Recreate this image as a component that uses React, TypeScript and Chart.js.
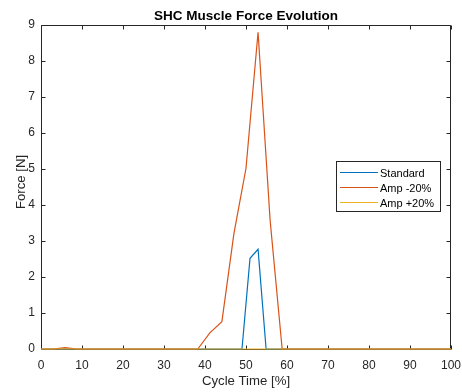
import React, { useEffect, useRef } from "react";
import { Chart, registerables } from "chart.js";

Chart.register(...registerables);

// ---- Data ----
const TITLE = "SHC Muscle Force Evolution";
const X_LABEL = "Cycle Time [%]";
const Y_LABEL = "Force [N]";
const SERIES_NAMES = ["Standard", "Amp -20%", "Amp +20%"];
const SERIES_COLORS = ["#0072BD", "#D95319", "#EDB120"];

// Standard (breakpoints of the curve; zero elsewhere)
const standardX = [0, 49.02, 50.98, 52.94, 54.9, 100];
const standardY = [0, 0, 2.52, 2.77, 0, 0];

// Amp -20%
const ampMinusX = [0, 2.94, 5.88, 8.82, 38.24, 41.18, 44.12, 47.06, 50.0, 52.94, 55.88, 58.82, 100];
const ampMinusY = [0, 0, 0.04, 0, 0, 0.45, 0.76, 3.21, 5.02, 8.8, 3.58, 0, 0];

// Amp +20%
const ampPlusX = [0, 100];
const ampPlusY = [0, 0];

const X_TICKS = [0, 10, 20, 30, 40, 50, 60, 70, 80, 90, 100];
const Y_TICKS = [0, 1, 2, 3, 4, 5, 6, 7, 8, 9];

const FONT = "'Liberation Sans', Arial, Helvetica, sans-serif";
const AXIS_COLOR = "#262626";

export default function App() {
  const ref = useRef<HTMLCanvasElement>(null);

  useEffect(() => {
    document.body.style.margin = "0";
    const canvas = ref.current;
    if (!canvas) return;

    const xs = [standardX, ampMinusX, ampPlusX];
    const ys = [standardY, ampMinusY, ampPlusY];

    const datasets = SERIES_NAMES.map((name, i) => ({
      label: name,
      data: xs[i].map((x, j) => ({ x, y: ys[i][j] })),
      borderColor: SERIES_COLORS[i],
      backgroundColor: SERIES_COLORS[i],
      borderWidth: 1.2,
      pointRadius: 0,
      pointHoverRadius: 0,
      tension: 0,
      fill: false,
      clip: 4,
      order: SERIES_NAMES.length - i,
    }));

    const matlabPlugin = {
      id: "matlabAxes",
      beforeDatasetsDraw(chart: any) {
        const { ctx, chartArea: a, scales } = chart;
        const xS = scales.x;
        const yS = scales.y;
        const L = Math.round(a.left) + 0.5;
        const R = Math.round(a.right) - 0.5;
        const T = Math.round(a.top) + 0.5;
        const B = Math.round(a.bottom) + 0.5;
        ctx.save();
        ctx.strokeStyle = AXIS_COLOR;
        ctx.lineWidth = 1;
        ctx.beginPath();
        ctx.rect(L, T, R - L, B - T);
        ctx.stroke();
        const tl = 4;
        ctx.beginPath();
        X_TICKS.forEach((v) => {
          const p = Math.round(xS.getPixelForValue(v)) + 0.5;
          ctx.moveTo(p, B);
          ctx.lineTo(p, B - tl);
          ctx.moveTo(p, T);
          ctx.lineTo(p, T + tl);
        });
        Y_TICKS.forEach((v) => {
          const p = Math.round(yS.getPixelForValue(v)) + 0.5;
          ctx.moveTo(L, p);
          ctx.lineTo(L + tl, p);
          ctx.moveTo(R, p);
          ctx.lineTo(R - tl, p);
        });
        ctx.stroke();
        ctx.restore();
      },
      afterDraw(chart: any) {
        const { ctx, chartArea: a } = chart;
        const cx = (a.left + a.right) / 2;
        ctx.save();
        // Title
        ctx.fillStyle = "#000000";
        ctx.font = `bold 13.5px ${FONT}`;
        ctx.textAlign = "center";
        ctx.textBaseline = "alphabetic";
        ctx.fillText(TITLE, cx, 20);
        // X label
        ctx.fillStyle = AXIS_COLOR;
        ctx.font = `13.2px ${FONT}`;
        ctx.fillText(X_LABEL, cx, 385);
        // Y label
        ctx.save();
        ctx.translate(24.5, 182);
        ctx.rotate(-Math.PI / 2);
        ctx.fillText(Y_LABEL, 0, 0);
        ctx.restore();

        // Legend
        const bx = 336.5, by = 161.5, bw = 104, bh = 50;
        ctx.fillStyle = "#ffffff";
        ctx.fillRect(bx, by, bw, bh);
        ctx.strokeStyle = AXIS_COLOR;
        ctx.lineWidth = 1;
        ctx.strokeRect(bx, by, bw, bh);
        ctx.font = `11px ${FONT}`;
        ctx.textAlign = "left";
        ctx.textBaseline = "alphabetic";
        chart.data.datasets.forEach((ds: any, i: number) => {
          const yy = 172.5 + i * 15;
          ctx.strokeStyle = ds.borderColor;
          ctx.lineWidth = 1.2;
          ctx.beginPath();
          ctx.moveTo(340, yy);
          ctx.lineTo(378, yy);
          ctx.stroke();
          ctx.fillStyle = "#000000";
          ctx.fillText(ds.label, 380, yy + 4);
        });
        ctx.restore();
      },
    };

    const chart = new Chart(canvas, {
      type: "line",
      data: { datasets },
      options: {
        animation: false,
        responsive: false,
        maintainAspectRatio: false,
        devicePixelRatio: 1,
        layout: { padding: { top: 25, right: 11, left: 0, bottom: 0 } },
        plugins: {
          legend: { display: false },
          title: { display: false },
          tooltip: { enabled: false },
        },
        scales: {
          x: {
            type: "linear",
            min: 0,
            max: 100,
            grid: { display: false, drawTicks: false },
            border: { display: false },
            ticks: {
              stepSize: 10,
              autoSkip: false,
              maxRotation: 0,
              padding: 9,
              color: AXIS_COLOR,
              font: { family: FONT, size: 12 },
            },
            afterFit: (s: any) => {
              s.height = 43;
              s.paddingLeft = 0;
              s.paddingRight = 0;
            },
          },
          y: {
            type: "linear",
            min: 0,
            max: 9,
            grid: { display: false, drawTicks: false },
            border: { display: false },
            ticks: {
              stepSize: 1,
              autoSkip: false,
              padding: 6,
              color: AXIS_COLOR,
              font: { family: FONT, size: 12 },
            },
            afterFit: (s: any) => {
              s.width = 41;
              s.paddingTop = 0;
              s.paddingBottom = 0;
            },
          },
        },
      },
      plugins: [matlabPlugin],
    });

    return () => chart.destroy();
  }, []);

  return (
    <canvas
      ref={ref}
      width={462}
      height={392}
      style={{ display: "block", width: 462, height: 392 }}
    />
  );
}
